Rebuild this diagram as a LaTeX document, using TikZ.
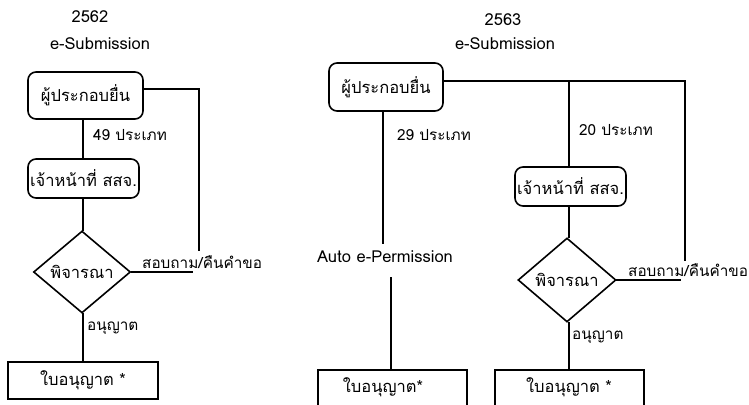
\documentclass[tikz,border=0pt]{standalone}
\usepackage{fontspec}
\setmainfont[Script=Thai]{Loma}
\usetikzlibrary{shapes.geometric}
\tikzset{
  ln/.style={line width=1.6pt, line cap=rect},
  rbox/.style={draw, line width=1.6pt, rounded corners=8pt, inner sep=0pt, font=\fontsize{16.5}{18}\selectfont},
  sbox/.style={draw, line width=1.6pt, inner sep=0pt, font=\fontsize{16.5}{18}\selectfont},
  dia/.style={draw, diamond, line width=1.6pt, inner sep=0pt, font=\fontsize{16.5}{18}\selectfont},
  lbl/.style={inner sep=0pt, font=\fontsize{15.3}{17}\selectfont},
  ttl/.style={inner sep=0pt, font=\fontsize{16.5}{18}\selectfont},
}
\begin{document}
\begin{tikzpicture}[x=1pt,y=-1pt]
\clip (0,0) rectangle (749,404);
\fill[white] (0,0) rectangle (749,404);
% ---------- left (2562) ----------
\node[ttl] (tyL) at (90,17) {2562};
\node[ttl] (tsL) at (100,44) {e-Submission};
\node[rbox, minimum width=115pt, minimum height=47pt] (b1L) at (85.5,95.5) {ผู้ประกอบยื่น};
\node[rbox, minimum width=111pt, minimum height=39pt] (b2L) at (83.5,178.5) {เจ้าหน้าที่ สสจ.};
\node[dia, minimum width=97pt, minimum height=82pt] (dL) at (82,272) {พิจารณา};
\node[sbox, minimum width=150pt, minimum height=37pt] (b3L) at (83,380.5) {ใบอนุญาต *};
\node[lbl, anchor=west] (l49) at (93,135) {49 ประเภท};
\node[lbl, anchor=west] (lqL) at (142,262) {สอบถาม/คืนคำขอ};
\node[lbl, anchor=west] (laL) at (87,328) {อนุญาต};
\coordinate (cL1) at (199,89);
\coordinate (cL2) at (199,250);
\coordinate (cL3) at (192,272);
\draw[ln] (b1L.south -| 83,0) -- (b2L.north -| 83,0);
\draw[ln] (b2L.south -| 83,0) -- (dL.north -| 83,0);
\draw[ln] (dL.south -| 83,0) -- (b3L.north -| 83,0);
\draw[ln] (b1L.east |- cL1) -- (cL1) -- (cL2);
\draw[ln] (dL.east) -- (cL3);
% ---------- right (2563) ----------
\node[ttl] (tyR) at (503,20) {2563};
\node[ttl] (tsR) at (505,44) {e-Submission};
\node[rbox, minimum width=114pt, minimum height=48pt] (b1R) at (386,87) {ผู้ประกอบยื่น};
\node[lbl, anchor=west] (l29) at (397,135) {29 ประเภท};
\node[ttl] (auto) at (385,257) {Auto e-Permission};
\node[sbox, minimum width=149pt, minimum height=50pt, anchor=north] (b3Ra) at (392.5,369) {};
\node[ttl] (t3Ra) at (383,387) {ใบอนุญาต*};
\node[rbox, minimum width=111pt, minimum height=39pt] (b2R) at (570.5,186.5) {เจ้าหน้าที่ สสจ.};
\node[lbl, anchor=west] (l20) at (579,130) {20 ประเภท};
\node[dia, minimum width=98pt, minimum height=84pt] (dR) at (567,280) {พิจารณา};
\node[lbl, anchor=west] (laR) at (572,337) {อนุญาต};
\node[lbl, anchor=west] (lqR) at (628,270) {สอบถาม/คืนคำขอ};
\node[sbox, minimum width=149pt, minimum height=50pt, anchor=north] (b3Rb) at (569.5,369) {};
\node[ttl] (t3Rb) at (569,387) {ใบอนุญาต *};
\coordinate (cR1) at (685,81);
\coordinate (cR2) at (685,260);
\coordinate (cR3) at (680,280);
\coordinate (cR4) at (569,81);
\coordinate (cA1) at (383,243);
\coordinate (cA2) at (391,278);
\draw[ln] (b1R.east |- cR1) -- (cR1) -- (cR2);
\draw[ln] (cR4) -- (b2R.north -| cR4);
\draw[ln] (b2R.south -| cR4) -- (dR.north -| cR4);
\draw[ln] (dR.south -| cR4) -- (b3Rb.north -| cR4);
\draw[ln] (dR.east) -- (cR3);
\draw[ln] (b1R.south -| cA1) -- (cA1);
\draw[ln] (cA2) -- (b3Ra.north -| cA2);
\end{tikzpicture}
\end{document}
